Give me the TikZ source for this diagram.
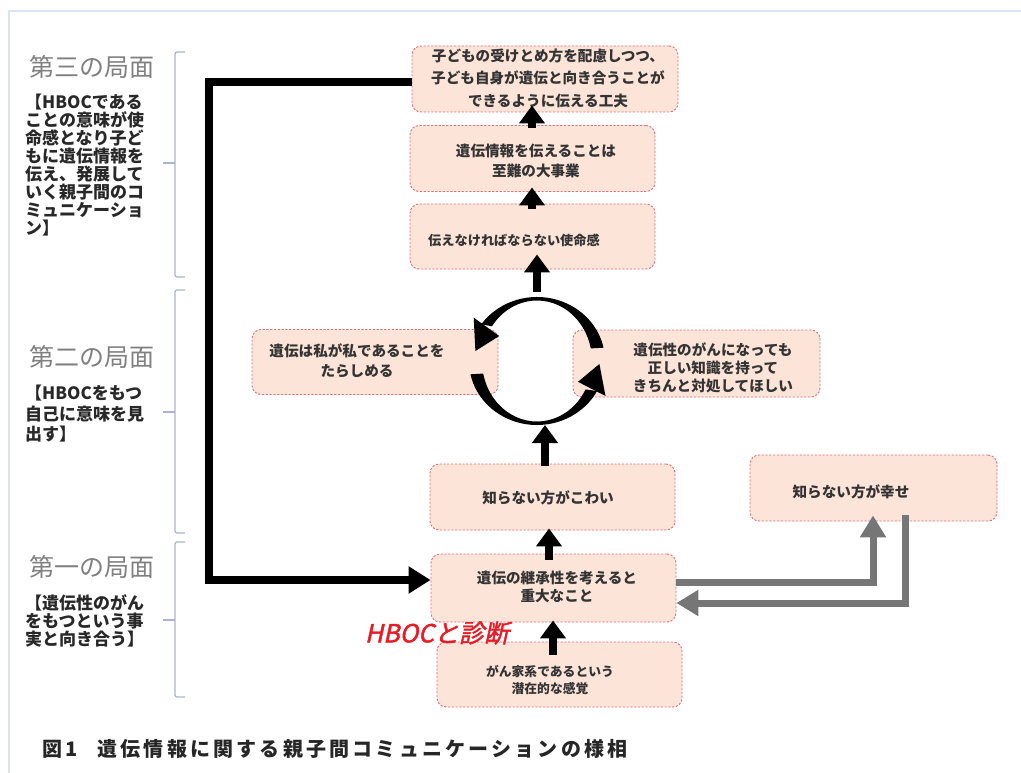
\documentclass[tikz,border=0pt]{standalone}
\usepackage{fontspec}
\setmainfont{Noto Sans CJK JP}
\newfontfamily\hbocfont[FakeSlant=0.22,FakeBold=1.8]{Noto Sans CJK JP}
\newfontfamily\capfont[LetterSpace=16]{Noto Sans CJK JP}
\usetikzlibrary{arrows.meta,calc}
\definecolor{boxfill}{RGB}{252,229,216}
\definecolor{boxline}{RGB}{226,110,126}
\definecolor{framec}{RGB}{216,228,246}
\definecolor{brk}{RGB}{170,180,204}
\definecolor{phase}{RGB}{128,128,128}
\definecolor{subtx}{RGB}{40,40,40}
\definecolor{grayarr}{RGB}{118,118,118}
\definecolor{hboc}{RGB}{232,28,36}
\begin{document}
\begin{tikzpicture}[x=1pt,y=-1pt,
  box/.style={draw=boxline, fill=boxfill, line width=0.9pt, dash pattern=on 2.2pt off 1.6pt,
    rounded corners=9pt, inner sep=0pt, minimum width=245pt, minimum height=66pt},
  txt/.style={font=\fontsize{14.6}{19.5}\selectfont\bfseries, text=black!80, align=center, inner sep=0pt},
  phasetitle/.style={font=\fontsize{25}{28}\selectfont, text=phase, inner sep=0pt},
  phasesub/.style={font=\fontsize{17}{18}\selectfont\bfseries, text=subtx, align=left, inner sep=0pt, anchor=north west},
  blk/.style={line width=8pt, black, -{Triangle[width=25pt,length=18pt]}},
  blkL/.style={line width=8pt, black, -{Triangle[width=26pt,length=22pt]}},
  gar/.style={line width=7pt, grayarr, -{Triangle[width=25pt,length=22pt]}},
  brkt/.style={draw=brk, line width=1.2pt, rounded corners=2pt},
]
\useasboundingbox (0,0) rectangle (1021,773);
% frame
\draw[framec, line width=1.5pt] (9,773) -- (9,11) -- (1021,11);

% boxes
\node[box, minimum width=266pt] (b1) at (545,79) {};
\node[box] (b2) at (532.5,158.5) {};
\node[box, minimum height=65pt] (b3) at (532.5,236.5) {};
\node[box, minimum width=246pt, minimum height=65pt] (bL) at (375,362) {};
\node[box, minimum width=247pt, minimum height=67pt] (bR) at (696.5,363.5) {};
\node[box] (b6) at (552.5,497) {};
\node[box, minimum width=247pt] (b7) at (873.5,488) {};
\node[box, minimum height=68pt] (b8) at (553.5,588) {};
\node[box, minimum height=65pt] (b9) at (559.5,674.5) {};

% box texts
\node[txt, font=\fontsize{14.6}{22.5}\selectfont\bfseries] (t1) at (548,78) {子どもの受けとめ方を配慮しつつ、\\子ども自身が遺伝と向き合うことが\\できるように伝える工夫};
\node[txt] (t2) at (536,161) {遺伝情報を伝えることは\\至難の大事業};
\node[txt, font=\fontsize{13.2}{18}\selectfont\bfseries] (t3) at (514,240) {伝えなければならない使命感};
\node[txt] (tL) at (357,361) {遺伝は私が私であることを\\たらしめる};
\node[txt, font=\fontsize{14.6}{18}\selectfont\bfseries] (tR) at (713,368) {遺伝性のがんになっても\\正しい知識を持って\\きちんと対処してほしい};
\node[txt] (t6) at (548,498) {知らない方がこわい};
\node[txt] (t7) at (851,492) {知らない方が幸せ};
\node[txt, font=\fontsize{14.6}{18}\selectfont\bfseries] (t8) at (557,587) {遺伝の継承性を考えると\\重大なこと};
\node[txt, font=\fontsize{12.8}{16.5}\selectfont\bfseries] (t9) at (550,680) {がん家系であるという\\潜在的な感覚};

% cycle
\coordinate (cycT) at (537,292);
\coordinate (cycB) at (545,425);
\fill[black] ({537+68*cos(12)},{361-64*sin(12)}) arc[start angle=-12, end angle=-145, x radius=68, y radius=64]
  -- ({537+55*cos(145)},{361-60.5*sin(145)}) arc[start angle=-145, end angle=-12, x radius=55, y radius=60.5] -- cycle;
\fill[black] (473.7,317.6) -- (499.2,336.0) -- (475.4,351.0) -- cycle;
\fill[black] ({537+68*cos(192)},{361-64*sin(192)}) arc[start angle=-192, end angle=-332, x radius=68, y radius=64]
  -- ({537+55*cos(332)},{361-60.5*sin(332)}) arc[start angle=-332, end angle=-192, x radius=55, y radius=60.5] -- cycle;
\fill[black] (605.5,396.0) -- (578.0,381.8) -- (599.4,364.0) -- cycle;

% black arrows
\draw[blk] ($(b9.north)+(-6.5,13)$) -- ($(b8.south)+(-0.5,-2)$);
\draw[blk] ($(b8.north)+(-4.5,6)$) -- ($(b6.south)+(-3.5,-2)$);
\draw[blk] ($(b6.north)+(-7.5,2)$) -- (cycB);
\draw[blk] (cycT) -- ($(b3.south)+(4.5,-15)$);
\draw[blk] ($(b3.north)+(-0.5,5)$) -- ($(b2.south)+(-0.5,-4.5)$);
\draw[blk] ($(b2.north)+(-0.5,2.5)$) -- ($(b1.south)+(-13,-7)$);
\draw[blkL] ($(b1.west)+(0,3)$) -- ++(-203,0) |- ($(b8.west)+(0,-8)$);

% gray arrows
\draw[gar] ($(b8.east)+(0,-6)$) -| ($(b7.south)+(-0.5,-6)$);
\draw[gar] ($(b7.south)+(32,-6)$) |- ($(b8.east)+(0,15)$);

% HBOC
\node[inner sep=0pt, text=hboc, font=\fontsize{25}{27}\hbocfont] (hb) at (437,633) {HBOCと診断};

% brackets
\draw[brkt] (185,52) -- (175,52) -- (175,277) -- (185,277);
\draw[brkt] (163,163) -- (175,163);
\draw[brkt] (185,290) -- (175,290) -- (175,533) -- (185,533);
\draw[brkt] (163,412) -- (175,412);
\draw[brkt] (185,542) -- (175,542) -- (175,697) -- (185,697);
\draw[brkt] (163,620) -- (175,620);

% phase labels
\node[phasetitle] (p3) at (92,67) {第三の局面};
\node[phasesub] (s3) at (25,94) {【HBOCである\\ことの意味が使\\命感となり子ど\\もに遺伝情報を\\伝え、発展して\\いく親子間のコ\\ミュニケーショ\\ン】};
\node[phasetitle] (p2) at (92,357) {第二の局面};
\node[phasesub, font=\fontsize{17}{20.5}\selectfont\bfseries] (s2) at (25,385) {【HBOCをもつ\\自己に意味を見\\出す】};
\node[phasetitle] (p1) at (92,567) {第一の局面};
\node[phasesub] (s1) at (25,594) {【遺伝性のがん\\をもつという事\\実と向き合う】};

% caption
\node[inner sep=0pt, anchor=west, font=\fontsize{20}{22}\capfont\bfseries, text=black!85] (cap) at (42,749) {図1\quad 遺伝情報に関する親子間コミュニケーションの様相};
\end{tikzpicture}
\end{document}
